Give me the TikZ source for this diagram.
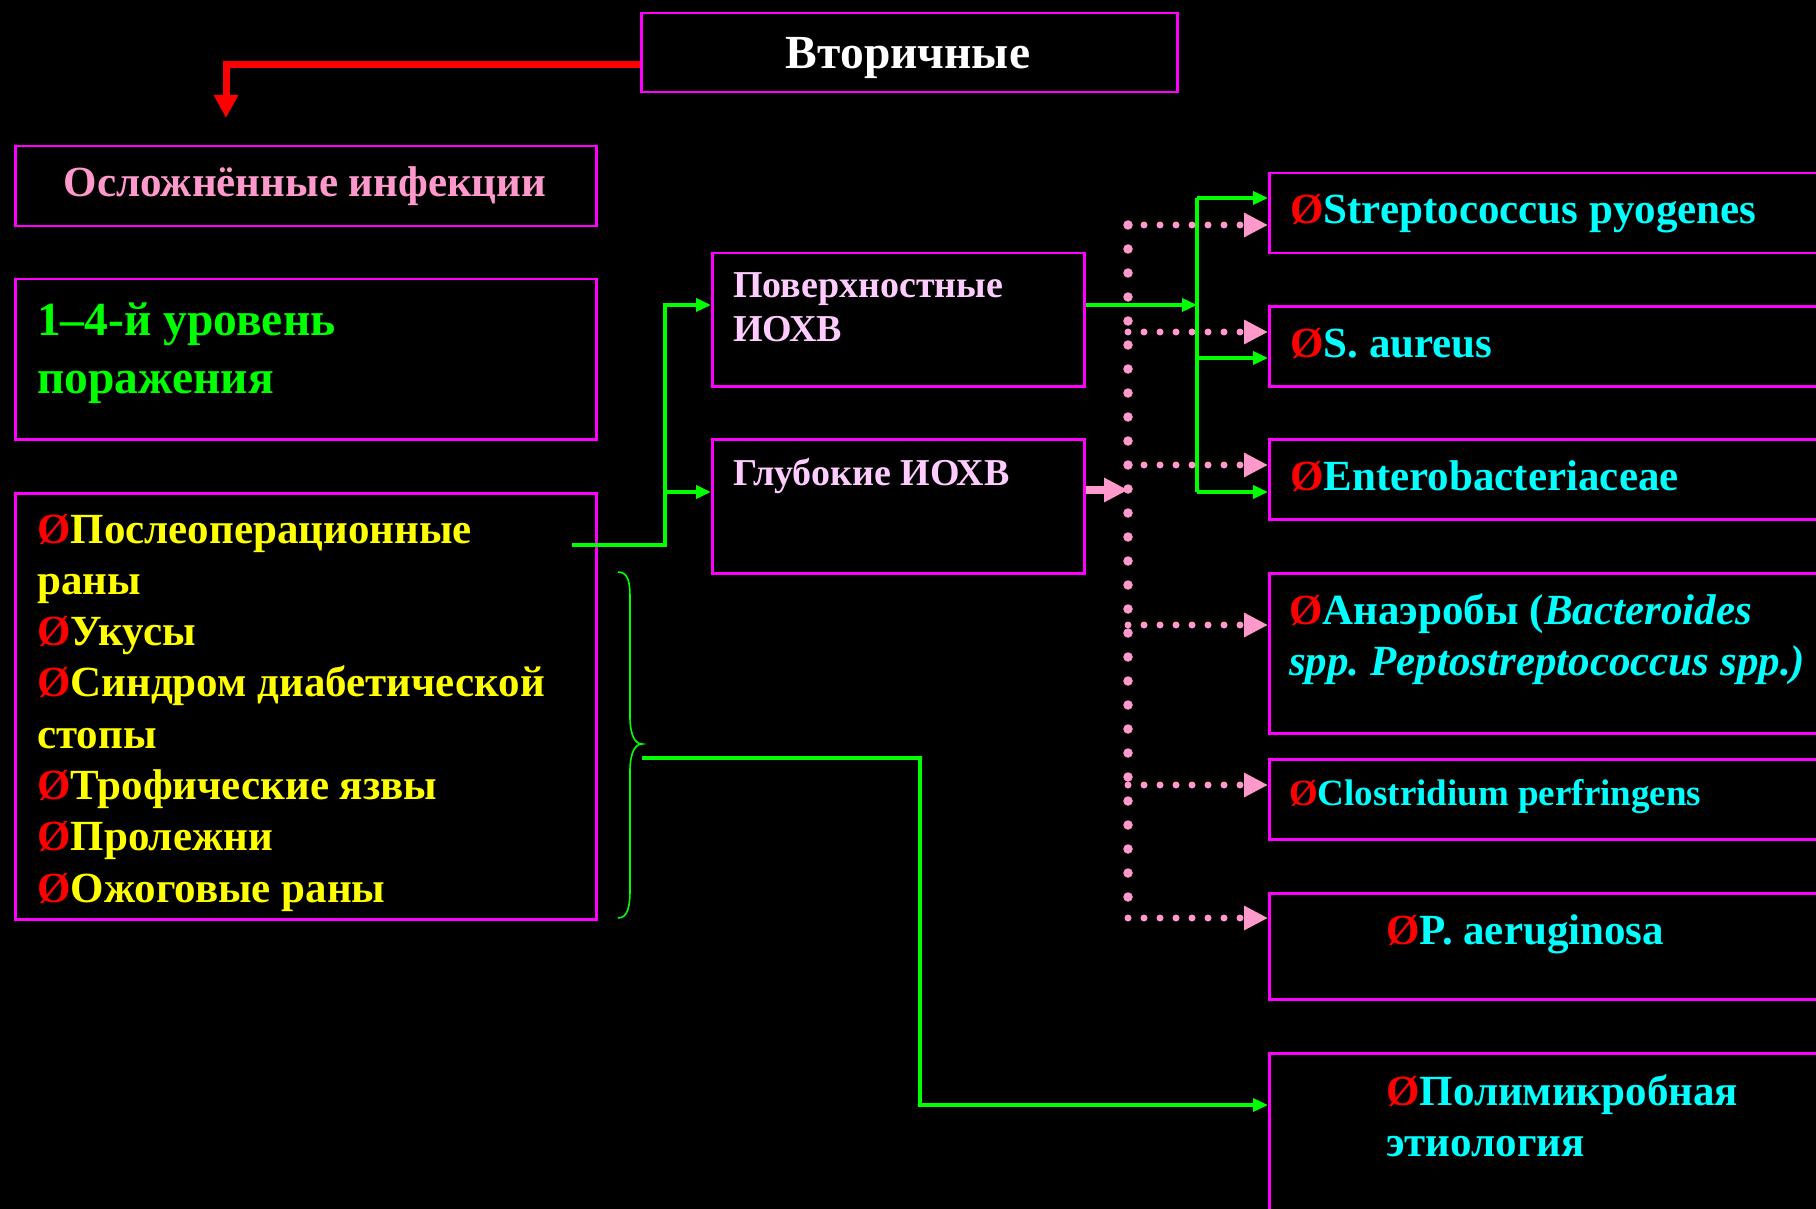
\documentclass[tikz,border=0pt]{standalone}
\usepackage{fontspec}
\setmainfont{Liberation Serif}
\usetikzlibrary{arrows.meta}
\definecolor{mag}{HTML}{FF00FF}
\definecolor{pinkc}{HTML}{FF99CC}
\definecolor{lpink}{HTML}{FFCCFF}
\definecolor{grn}{HTML}{00FF00}
\definecolor{cyn}{HTML}{00FFFF}
\definecolor{ylw}{HTML}{FFFF00}
\definecolor{redc}{HTML}{FF0000}
\frenchspacing
\newcommand\bul{\textcolor{redc}{Ø}}
\newcommand\szBig{\fontsize{47.5}{58}\selectfont}
\newcommand\szMid{\fontsize{43}{51.3}\selectfont}
\newcommand\szSm{\fontsize{38}{44}\selectfont}
\newcommand\szCl{\fontsize{37}{44}\selectfont}
\begin{document}
\begin{tikzpicture}[x=1pt,y=-1pt,
  box/.style={draw=mag,line width=2.5pt,inner sep=0pt,anchor=north west},
  tx/.style={inner sep=0pt,anchor=base west,font=\bfseries},
  gline/.style={draw=grn,line width=3.5pt},
  garrow/.style={gline,-{Triangle[length=15pt,width=13pt]}},
  pvdot/.style={draw=pinkc,line width=9.5pt,line cap=round,dash pattern=on 0pt off 24pt},
  phdot/.style={draw=pinkc,line width=7pt,line cap=round,dash pattern=on 0pt off 16pt,
    -{Triangle[length=24pt,width=23pt,fill=pinkc]}},
  pthick/.style={draw=pinkc,line width=8pt,-{Triangle[length=24pt,width=23pt]}},
  redarrow/.style={draw=redc,line width=7pt,-{Triangle[length=23pt,width=23pt]}}]
\fill[black] (0,0) rectangle (1816,1209);
\useasboundingbox (0,0) rectangle (1816,1209);
\clip (0,0) rectangle (1816,1209);

% boxes
\node[box,minimum width=536pt,minimum height=79pt] (top) at (640,12) {};
\node[box,minimum width=581pt,minimum height=80pt] (compl) at (14,145) {};
\node[box,minimum width=581pt,minimum height=160pt] (level) at (14,278) {};
\node[box,minimum width=581pt,minimum height=426pt] (list) at (14,492) {};
\node[box,minimum width=372pt,minimum height=133pt] (surf) at (711,252) {};
\node[box,minimum width=372pt,minimum height=134pt] (deep) at (711,438) {};
\node[box,minimum width=600pt,minimum height=80pt] (strep) at (1268,172) {};
\node[box,minimum width=600pt,minimum height=80pt] (aureus) at (1268,305) {};
\node[box,minimum width=600pt,minimum height=80pt] (entero) at (1268,438) {};
\node[box,minimum width=600pt,minimum height=160pt] (anaer) at (1268,572) {};
\node[box,minimum width=600pt,minimum height=80pt] (clost) at (1268,758) {};
\node[box,minimum width=600pt,minimum height=106pt] (paer) at (1268,892) {};
\node[box,minimum width=600pt,minimum height=200pt] (poly) at (1268,1052) {};

% texts
\node[tx,anchor=base,text=white] (ttop) at (908,69) {\szBig Вторичные};
\node[tx,anchor=base,text=pinkc] (tcompl) at (305,197) {\szMid Осложнённые инфекции};
\node[tx,text=grn] (tlevel) at (37,335) {\szBig\vtop{\hbox{1–4-й уровень}\hbox{поражения}}};
\node[tx,text=ylw] (tlist) at (37,543) {\szMid\vtop{%
  \hbox{\bul Послеоперационные}\hbox{раны}\hbox{\bul Укусы}%
  \hbox{\bul Синдром диабетической}\hbox{стопы}\hbox{\bul Трофические язвы}%
  \hbox{\bul Пролежни}\hbox{\bul Ожоговые раны}}};
\node[tx,text=lpink] (tsurf) at (733,298) {\szSm\vtop{\hbox{Поверхностные}\hbox{ИОХВ}}};
\node[tx,text=lpink] (tdeep) at (733,485) {\szSm Глубокие ИОХВ};
\node[tx,text=cyn] (tstrep) at (1290,224) {\szMid\bul Streptococcus pyogenes};
\node[tx,text=cyn] (taureus) at (1290,357) {\szMid\bul S. aureus};
\node[tx,text=cyn] (tentero) at (1290,490) {\szMid\bul Enterobacteriaceae};
\node[tx,text=cyn] (tanaer) at (1289,624) {\szMid\vtop{%
  \hbox{\bul Анаэробы (\textit{Bacteroides}}%
  \hbox{\textit{spp. Peptostreptococcus spp.)}}}};
\node[tx,text=cyn] (tclost) at (1289,805) {\szCl\bul Clostridium perfringens};
\node[tx,text=cyn] (tpaer) at (1386,944) {\szMid\bul P. aeruginosa};
\node[tx,text=cyn] (tpoly) at (1386,1105) {\szMid\vtop{\hbox{\bul Полимикробная}\hbox{этиология}}};

% red arrow
\coordinate (rtip) at (226,118);
\draw[redarrow] (top.west |- 0,65) -| (rtip);

% green from list
\coordinate (gs) at (572,545);
\coordinate (gj) at (665,545);
\draw[garrow] (gs) -- (gj) |- (surf.west |- 0,305);
\draw[garrow] (gj) |- (deep.west |- 0,492);

% green right side
\coordinate (gv1) at (1197,198);
\coordinate (gv2) at (1197,492);
\coordinate (gvm) at (1197,358);
\draw[gline] (gv1) -- (gv2);
\draw[garrow] (surf.east |- 0,305) -- (1197,305);
\draw[garrow] (gv1) -- (strep.west |- gv1);
\draw[garrow] (gvm) -- (aureus.west |- gvm);
\draw[garrow] (gv2) -- (entero.west |- gv2);

% pink dotted
\coordinate (pv1) at (1128,225);
\coordinate (pv2) at (1128,918);
\draw[pvdot] (pv1) -- (pv2);
\draw[phdot] (pv1) -- (strep.west |- pv1);
\draw[phdot] (1128,332) -- (aureus.west |- 0,332);
\draw[phdot] (1128,465) -- (entero.west |- 0,465);
\draw[phdot] (1128,625) -- (anaer.west |- 0,625);
\draw[phdot] (1128,785) -- (clost.west |- 0,785);
\draw[phdot] (pv2) -- (paer.west |- pv2);
\draw[pthick] (deep.east |- 0,490) -- (1128,490);

% brace
\draw[grn,line width=1.6pt] (618,572) .. controls (628,572) and (630,582) .. (630,597)
  -- (630,717) .. controls (630,735) and (635,744) .. (642,744)
  .. controls (635,744) and (630,753) .. (630,771)
  -- (630,890) .. controls (630,906) and (628,918) .. (618,918);
\coordinate (bt) at (642,758);
\draw[garrow] (bt) -| (920,1105) -- (poly.west |- 0,1105);
\end{tikzpicture}
\end{document}
